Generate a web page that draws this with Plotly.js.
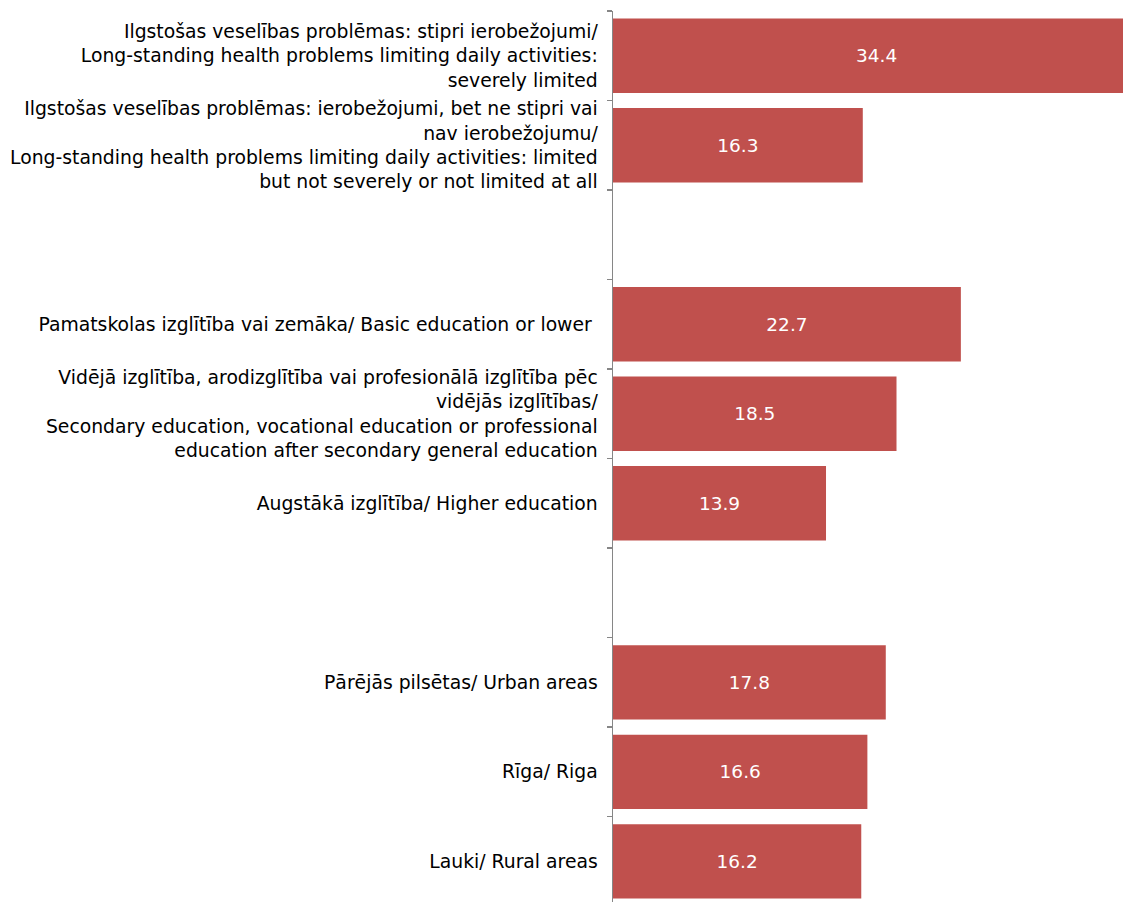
<!DOCTYPE html>
<html>
<head>
<meta charset="utf-8">
<script src="https://cdn.plot.ly/plotly-3.0.1.min.js"></script>
<style>html,body{margin:0;padding:0;overflow:hidden;background:#fff;}</style>
</head>
<body>
<div id="chart" style="width:1123px;height:902px;"></div>
<script>
var categories = [
  "Ilgstošas veselības problēmas: stipri ierobežojumi/<br>Long-standing health problems limiting daily activities:<br>severely limited",
  "Ilgstošas veselības problēmas: ierobežojumi, bet ne stipri vai<br>nav ierobežojumu/<br>Long-standing health problems limiting daily activities: limited<br>but not severely or not limited at all",
  " ",
  "Pamatskolas izglītība vai zemāka/ Basic education or lower ",
  "Vidējā izglītība, arodizglītība vai profesionālā izglītība pēc<br>vidējās izglītības/<br>Secondary education, vocational education or professional<br>education after secondary general education",
  "Augstākā izglītība/ Higher education",
  "  ",
  "Pārējās pilsētas/ Urban areas",
  "Rīga/ Riga",
  "Lauki/ Rural areas"
];
var values = [34.4, 16.3, null, 22.7, 18.5, 13.9, null, 17.8, 16.6, 16.2];
var labels = ["34.4", "16.3", "", "22.7", "18.5", "13.9", "", "17.8", "16.6", "16.2"];

var trace = {
  type: "bar",
  orientation: "h",
  y: categories,
  x: values,
  text: labels,
  texttemplate: "%{text}",
  textposition: "inside",
  insidetextanchor: "middle",
  textangle: 0,
  insidetextfont: {family: "DejaVu Sans, Verdana, sans-serif", size: 18.5, color: "#ffffff"},
  marker: {color: "#C0504D", line: {width: 0}},
  hoverinfo: "none",
  cliponaxis: true
};

var layout = {
  width: 1123,
  height: 902,
  margin: {l: 613, r: 0, t: 11, b: 0, pad: 0},
  paper_bgcolor: "#ffffff",
  plot_bgcolor: "#ffffff",
  showlegend: false,
  bargap: 0.17,
  font: {family: "DejaVu Sans, Verdana, sans-serif", size: 18.8, color: "#000000"},
  xaxis: {
    range: [0, 33.28],
    visible: false,
    showgrid: false,
    zeroline: false,
    fixedrange: true
  },
  yaxis: {
    type: "category",
    categoryorder: "array",
    categoryarray: categories,
    range: [9.455, -0.5],
    showline: true,
    linecolor: "#868686",
    linewidth: 1.5,
    ticks: "outside",
    tickson: "boundaries",
    ticklen: 5,
    tickwidth: 1.5,
    tickcolor: "#868686",
    showgrid: false,
    zeroline: false,
    automargin: false,
    ticklabelstandoff: 10,
    tickfont: {family: "DejaVu Sans, Verdana, sans-serif", size: 18.8, color: "#000000"},
    fixedrange: true
  }
};

Plotly.newPlot("chart", [trace], layout, {displayModeBar: false, staticPlot: true});
</script>
</body>
</html>
